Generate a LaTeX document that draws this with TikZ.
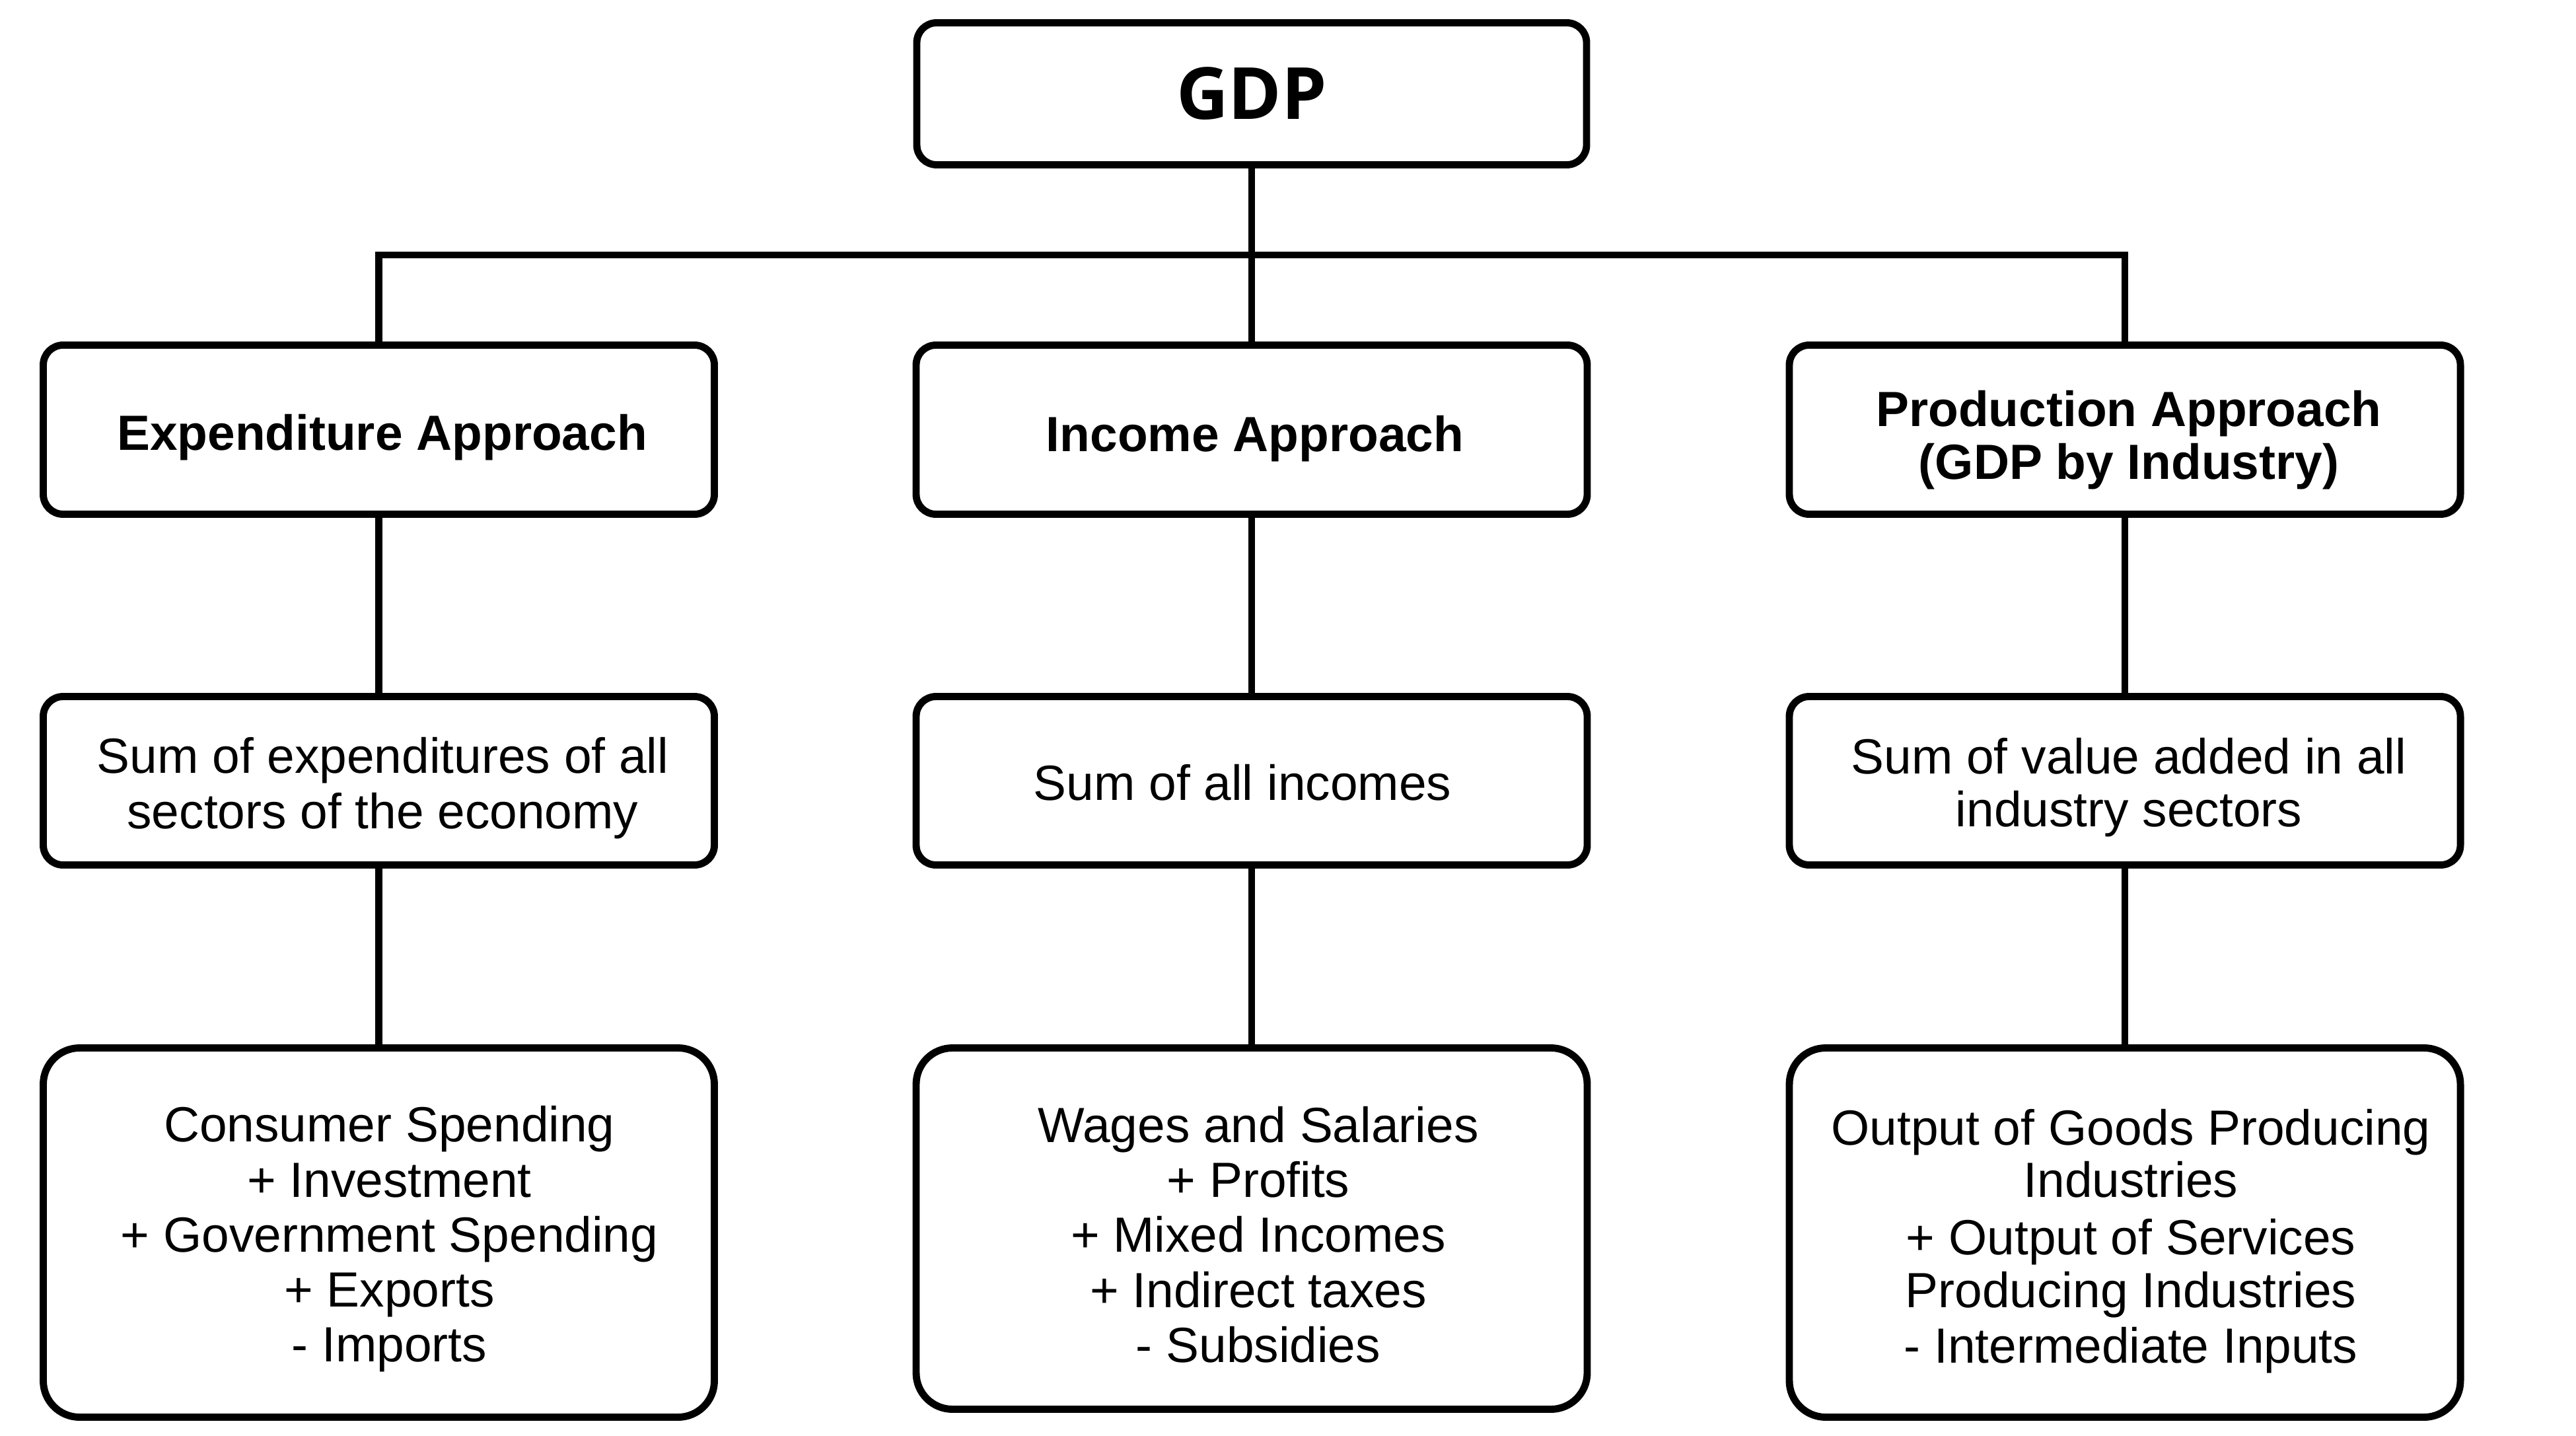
\documentclass[tikz,border=0pt]{standalone}
\usepackage{fontspec}
\setmainfont{Liberation Sans}
\newfontfamily\gdpfont{Open Sans}
\begin{document}
\begin{tikzpicture}[
  line width=3.1pt,
  boxa/.style={draw=black, rounded corners=0.3cm, minimum width=10.16cm, inner sep=0pt, fill=white},
  boxc/.style={draw=black, rounded corners=0.55cm, minimum width=10.16cm, inner sep=0pt, fill=white},
  txt/.style={align=center, inner sep=0pt, font=\fontsize{21.3pt}{23.7pt}\selectfont},
  btxt/.style={align=center, inner sep=0pt, font=\fontsize{21.3pt}{23.7pt}\selectfont\bfseries},
  conn/.style={draw=black, line width=3.1pt}
]
\useasboundingbox (0,0) rectangle (39,-21.74);
% boxes
\node[boxa, minimum height=2.15cm, minimum width=10.14cm] (gdp) at (18.95,-1.42) {};
\node[boxa, minimum height=2.56cm] (exp) at (5.735,-6.505) {};
\node[boxa, minimum height=2.56cm] (inc) at (18.95,-6.505) {};
\node[boxa, minimum height=2.56cm] (prod) at (32.17,-6.505) {};
\node[boxa, minimum height=2.55cm] (expsum) at (5.735,-11.82) {};
\node[boxa, minimum height=2.55cm] (incsum) at (18.95,-11.82) {};
\node[boxa, minimum height=2.55cm] (prodsum) at (32.17,-11.82) {};
\node[boxc, minimum height=5.59cm] (expdet) at (5.735,-18.66) {};
\node[boxc, minimum height=5.47cm] (incdet) at (18.95,-18.60) {};
\node[boxc, minimum height=5.59cm] (proddet) at (32.17,-18.66) {};
% texts
\node[inner sep=0pt, font=\gdpfont\bfseries\fontsize{31pt}{34pt}\selectfont] (gdpt) at (gdp.center) {GDP};
\node[btxt] (expt) at ([xshift=0.05cm,yshift=-0.12cm]exp.center) {Expenditure Approach};
\node[btxt] (inct) at ([xshift=0.05cm,yshift=-0.14cm]inc.center) {Income Approach};
\node[btxt, font=\fontsize{21.3pt}{22.8pt}\selectfont\bfseries] (prodt) at ([xshift=0.06cm,yshift=-0.16cm]prod.center) {Production Approach\\(GDP by Industry)};
\node[txt] (expsumt) at ([xshift=0.06cm,yshift=-0.11cm]expsum.center) {Sum of expenditures of all\\sectors of the economy};
\node[txt] (incsumt) at ([xshift=-0.14cm,yshift=-0.03cm]incsum.center) {Sum of all incomes};
\node[txt, font=\fontsize{21.3pt}{22.8pt}\selectfont] (prodsumt) at ([xshift=0.06cm,yshift=-0.10cm]prodsum.center) {Sum of value added in all\\industry sectors};
\node[txt] (expdett) at ([xshift=0.16cm,yshift=-0.10cm]expdet.center) {Consumer Spending\\+ Investment\\+ Government Spending\\+ Exports\\- Imports};
\node[txt] (incdett) at ([xshift=0.10cm,yshift=-0.09cm]incdet.center) {Wages and Salaries\\+ Profits\\+ Mixed Incomes\\+ Indirect taxes\\- Subsidies};
\node[txt, font=\fontsize{21.3pt}{22.6pt}\selectfont] (proddett) at ([xshift=0.09cm,yshift=-0.13cm]proddet.center) {Output of Goods Producing\\Industries\\[0.08cm]+ Output of Services\\Producing Industries\\[0.05cm]- Intermediate Inputs};
% connectors
\coordinate (busL) at (5.735,-3.86);
\coordinate (busR) at (32.17,-3.86);
\draw[conn] (exp.north) -- (busL) -- (busR) -- (prod.north);
\draw[conn] (gdp.south) -- (inc.north);
\draw[conn] (exp.south) -- (expsum.north);
\draw[conn] (inc.south) -- (incsum.north);
\draw[conn] (prod.south) -- (prodsum.north);
\draw[conn] (expsum.south) -- (expdet.north);
\draw[conn] (incsum.south) -- (incdet.north);
\draw[conn] (prodsum.south) -- (proddet.north);
\end{tikzpicture}
\end{document}
